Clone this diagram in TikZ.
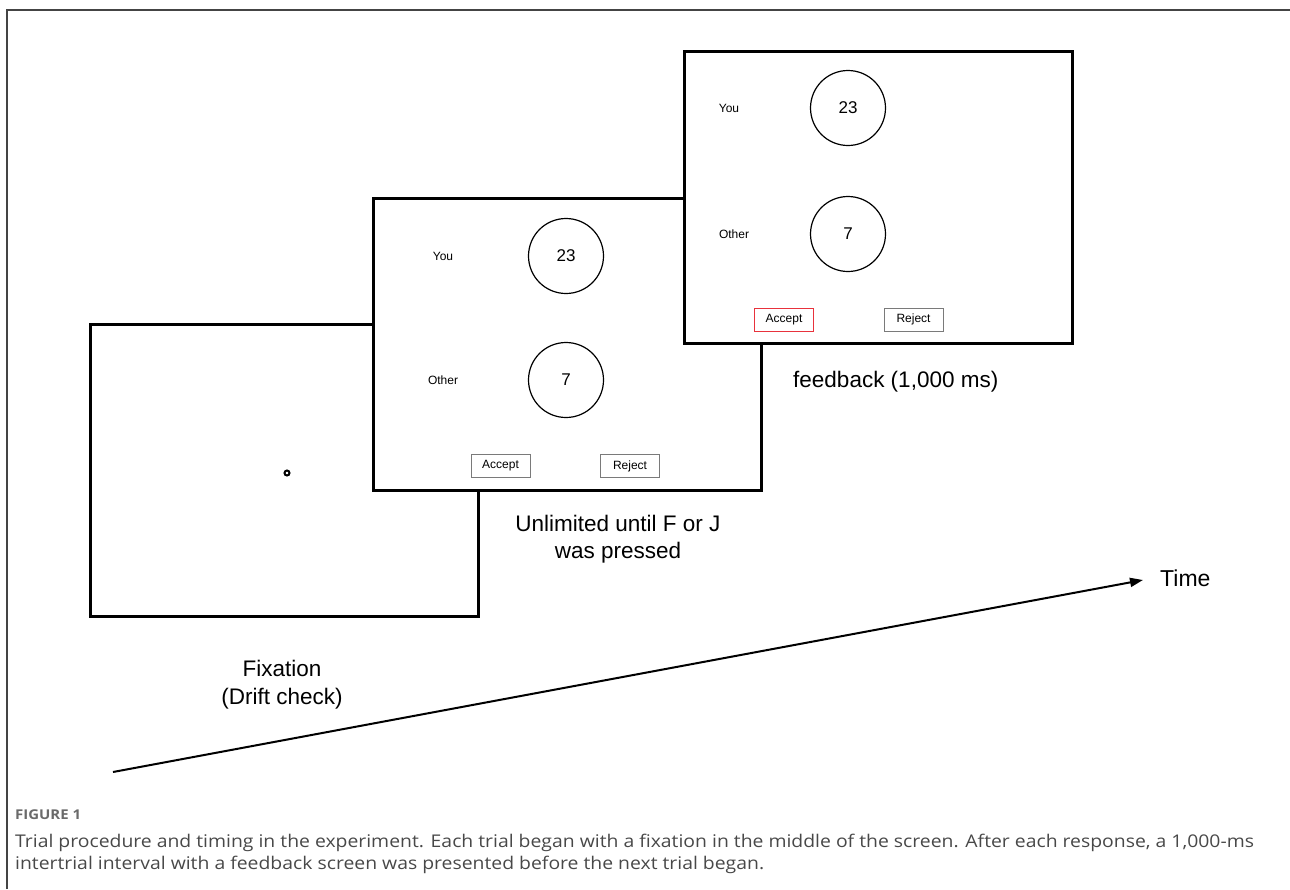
\documentclass[tikz,border=0pt]{standalone}
\usepackage{fontspec}
\setmainfont{Liberation Sans}
\newfontfamily\capfont[FakeStretch=1.107]{Open Sans}
\usetikzlibrary{arrows.meta}
\definecolor{framegray}{HTML}{444444}
\definecolor{btngray}{HTML}{7A7A7A}
\definecolor{accred}{HTML}{E8323C}
\definecolor{capgray}{HTML}{484848}
\definecolor{figgray}{HTML}{6A6A6A}
\begin{document}
\begin{tikzpicture}[x=1pt,y=-1pt,
  screen/.style={draw=black, line width=2.5pt, fill=white, minimum width=388pt, minimum height=292pt, anchor=north west, inner sep=0pt},
  numcircle/.style={circle, draw=black, line width=1.2pt, minimum size=75pt, inner sep=0pt, font=\fontsize{17}{20}\selectfont},
  smalltext/.style={anchor=base, inner sep=0pt, font=\fontsize{12}{14}\selectfont},
  btn/.style={draw=btngray, line width=1pt, minimum width=59pt, minimum height=23pt, inner sep=0pt, font=\fontsize{12}{14}\selectfont},
  lbl/.style={anchor=base, inner sep=0pt, font=\fontsize{22.5}{27}\selectfont},
  captext/.style={anchor=base west, inner sep=0pt, text=capgray, font=\capfont\fontsize{17.5}{21}\selectfont}
]
\useasboundingbox (0,0) rectangle (1290,889);
% page frame
\draw[framegray, line width=2pt] (7,889) -- (7,10) -- (1290,10);

% fixation screen
\node[screen] (fixscr) at (89,323) {};
\node[circle, draw=black, line width=2pt, minimum size=5pt, inner sep=0pt] (dot) at (287,473) {};

% decision screen
\node[screen] (decscr) at (372,197) {};
\node[smalltext] (you1) at (443,260) {You};
\node[numcircle] (c23a) at (566,256) {23};
\node[smalltext] (oth1) at (443,384) {Other};
\node[numcircle] (c7a) at (566,380) {7};
\node[btn] (acc1) at (500.5,466) {Accept};
\node[btn] (rej1) at (630,466) {Reject};

% feedback screen
\node[screen] (fbscr) at (683,50) {};
\node[smalltext] (you2) at (729,112) {You};
\node[numcircle] (c23b) at (848,108) {23};
\node[smalltext] (oth2) at (734,238) {Other};
\node[numcircle] (c7b) at (848,234) {7};
\node[btn, draw=accred] (acc2) at (784,319.5) {Accept};
\node[btn] (rej2) at (913.5,319.5) {Reject};

% labels
\node[lbl, anchor=base west] (fblbl) at (793,387) {feedback (1,000 ms)};
\node[lbl] (un1) at (618,531) {Unlimited until F or J};
\node[lbl] (un2) at (618,558) {was pressed};
\node[lbl] (fx1) at (282,676) {Fixation};
\node[lbl] (fx2) at (282,704) {(Drift check)};

% time arrow
\coordinate (ts) at (113,772);
\coordinate (te) at (1143,580);
\draw[line width=2pt, -{Triangle[length=13pt,width=9pt]}] (ts) -- (te);
\node[lbl, anchor=base west, font=\fontsize{23}{27}\selectfont] (time) at (1160,586) {Time};

% caption
\node[captext, font=\capfont\bfseries\fontsize{13.5}{16}\selectfont, text=figgray] (figlbl) at (15,819) {FIGURE 1};
\node[captext] (cap1) at (15,847) {Trial procedure and timing in the experiment. Each trial began with a fixation in the middle of the screen. After each response, a 1,000-ms};
\node[captext] (cap2) at (15,869) {intertrial interval with a feedback screen was presented before the next trial began.};
\end{tikzpicture}
\end{document}
